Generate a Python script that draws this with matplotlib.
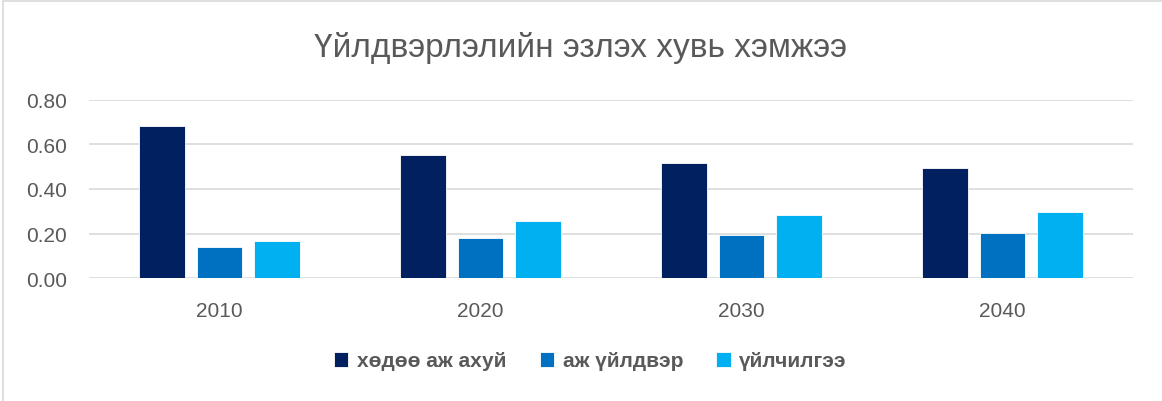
import matplotlib
matplotlib.use('Agg')
import matplotlib.pyplot as plt
import numpy as np
from matplotlib.patches import Rectangle

years = ['2010', '2020', '2030', '2040']
hodoo = [0.683, 0.553, 0.515, 0.495]
aj_uildver = [0.142, 0.182, 0.194, 0.201]
uilchilgee = [0.166, 0.258, 0.283, 0.297]
series_names = ['хөдөө аж ахуй', 'аж үйлдвэр', 'үйлчилгээ']
colors = ['#002060', '#0070C0', '#00B0F0']

plt.rcParams['font.family'] = ['Liberation Sans', 'DejaVu Sans']

fig = plt.figure(figsize=(11.62, 4.02), dpi=100)
ax = fig.add_axes([89 / 1162, 122.7 / 402, 1044 / 1162, 178.6 / 402])

# outer chart frame
fig.patches.append(Rectangle((3 / 1162, -0.1), 1.2, (402 - 2) / 402 + 0.1,
                             transform=fig.transFigure, fill=False,
                             edgecolor='#D9D9D9', linewidth=1.2))

x = np.arange(len(years))
width = 0.174
step = 0.221
for i, (vals, name, c) in enumerate(zip([hodoo, aj_uildver, uilchilgee], series_names, colors)):
    ax.bar(x + (i - 1) * step, vals, width, color=c, label=name,
           edgecolor='white', linewidth=0.6, zorder=3)

ax.set_xlim(-0.5, 3.5)
ax.set_ylim(0, 0.8)
ax.set_yticks([0, 0.2, 0.4, 0.6, 0.8])
ax.set_yticklabels(['%.2f' % v for v in [0, 0.2, 0.4, 0.6, 0.8]])
ax.set_xticks(x)
ax.set_xticklabels(years)
ax.grid(axis='y', color='#D9D9D9', linewidth=1.2, zorder=0)
for s in ax.spines.values():
    s.set_visible(False)
ax.tick_params(axis='both', length=0, labelsize=15, colors='#595959')
ax.tick_params(axis='y', pad=16)
ax.tick_params(axis='x', pad=16)

fig.text(0.5, 1 - 48 / 402, 'Үйлдвэрлэлийн эзлэх хувь хэмжээ',
         ha='center', va='center', fontsize=24, color='#595959')

leg = fig.legend(loc='center', bbox_to_anchor=(0.508, 1 - 362 / 402), ncol=3,
                 frameon=False, handlelength=0.7, handleheight=0.7,
                 handletextpad=0.4, columnspacing=1.6,
                 prop={'size': 15, 'weight': 'bold'})
for t in leg.get_texts():
    t.set_color('#595959')

fig.savefig('out.png', dpi=100)
